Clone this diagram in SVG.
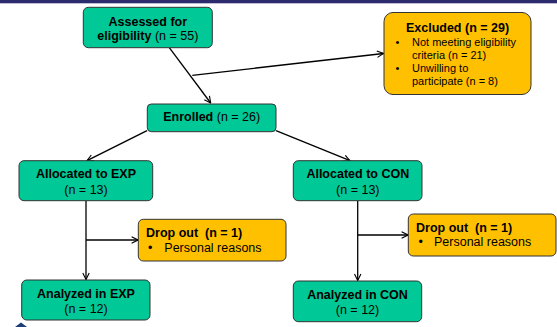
<svg xmlns="http://www.w3.org/2000/svg" width="557" height="327" viewBox="0 0 557 327">
<defs>
<marker id="arr" viewBox="0 0 10 10" refX="9" refY="5" markerWidth="8" markerHeight="8" markerUnits="userSpaceOnUse" orient="auto">
<path d="M1,1 L9,5 L1,9" fill="none" stroke="#000" stroke-width="1.4"/>
</marker>
<style>
.g{fill:#00C896;stroke:#333;stroke-width:1}
.y{fill:#FFC000;stroke:#333;stroke-width:1}
text{font-family:"Liberation Sans",Arial,sans-serif;font-size:12.5px;fill:#000}
.b{font-weight:bold}
.c{text-anchor:middle}
.s{font-size:11px}
.ln{fill:none;stroke:#000;stroke-width:1.3}
</style>
</defs>
<rect x="0" y="0" width="557" height="327" fill="#fff"/>
<rect x="0" y="0" width="557" height="3.3" fill="#2b2b6e"/>
<polygon points="15,327 21,322.5 27,327" fill="#1c3d7a"/>
<g id="connectors">
<line class="ln" x1="169.3" y1="47.7" x2="210.7" y2="103" marker-end="url(#arr)"/>
<line class="ln" x1="192.3" y1="75.3" x2="383.5" y2="53.5" marker-end="url(#arr)"/>
<line class="ln" x1="147" y1="130.7" x2="87" y2="160.7" marker-end="url(#arr)"/>
<line class="ln" x1="276" y1="130.7" x2="350" y2="160.7" marker-end="url(#arr)"/>
<line class="ln" x1="86" y1="200.7" x2="86" y2="279.5" marker-end="url(#arr)"/>
<line class="ln" x1="86" y1="240" x2="138" y2="240" marker-end="url(#arr)"/>
<line class="ln" x1="357.7" y1="200.7" x2="357.7" y2="280.5" marker-end="url(#arr)"/>
<line class="ln" x1="357.7" y1="235" x2="408" y2="235" marker-end="url(#arr)"/>
</g>
<g id="assessed">
<rect class="g" x="83.3" y="7.3" width="129" height="40.4" rx="5"/>
<text class="b c" x="147.8" y="25.7">Assessed for</text>
<text class="c" x="147.8" y="39.5"><tspan class="b">eligibility</tspan> (n = 55)</text>
</g>
<g id="excluded">
<rect class="y" x="384" y="12.5" width="147" height="82" rx="9"/>
<text class="b c" x="457.5" y="32">Excluded (n = 29)</text>
<text class="s" x="395.5" y="46">•</text>
<text class="s" x="412" y="46">Not meeting eligibility</text>
<text class="s" x="412" y="58.5">criteria (n = 21)</text>
<text class="s" x="395.5" y="72">•</text>
<text class="s" x="412" y="72">Unwilling to</text>
<text class="s" x="412" y="84.5">participate (n = 8)</text>
</g>
<g id="enrolled">
<rect class="g" x="147.3" y="104" width="128.7" height="27.7" rx="4"/>
<text class="c" x="211.7" y="120.7"><tspan class="b">Enrolled</tspan> (n = 26)</text>
</g>
<g id="alloc-exp">
<rect class="g" x="19" y="160.7" width="133.7" height="40" rx="5"/>
<text class="b c" x="86" y="177.7">Allocated to EXP</text>
<text class="c" x="86" y="193.5">(n = 13)</text>
</g>
<g id="alloc-con">
<rect class="g" x="293.3" y="160.7" width="128.7" height="40" rx="5"/>
<text class="b c" x="357.8" y="177.7">Allocated to CON</text>
<text class="c" x="357.8" y="193.5">(n = 13)</text>
</g>
<g id="dropout-exp">
<rect class="y" x="138.3" y="219.3" width="147.7" height="41.7" rx="5"/>
<text class="b" x="146" y="237.3" xml:space="preserve">Drop out  (n = 1)</text>
<text x="148" y="251.7">•</text>
<text x="164.3" y="251.7">Personal reasons</text>
</g>
<g id="dropout-con">
<rect class="y" x="408.3" y="214" width="147.7" height="42" rx="5"/>
<text class="b" x="416" y="231.7" xml:space="preserve">Drop out  (n = 1)</text>
<text x="418.5" y="246">•</text>
<text x="434" y="246">Personal reasons</text>
</g>
<g id="analyzed-exp">
<rect class="g" x="21.7" y="280" width="128.3" height="40" rx="5"/>
<text class="b c" x="86" y="297.7">Analyzed in EXP</text>
<text class="c" x="86" y="312.5">(n = 12)</text>
</g>
<g id="analyzed-con">
<rect class="g" x="293.3" y="281" width="128.4" height="40.7" rx="5"/>
<text class="b c" x="357.5" y="299">Analyzed in CON</text>
<text class="c" x="357.5" y="314">(n = 12)</text>
</g>
</svg>
